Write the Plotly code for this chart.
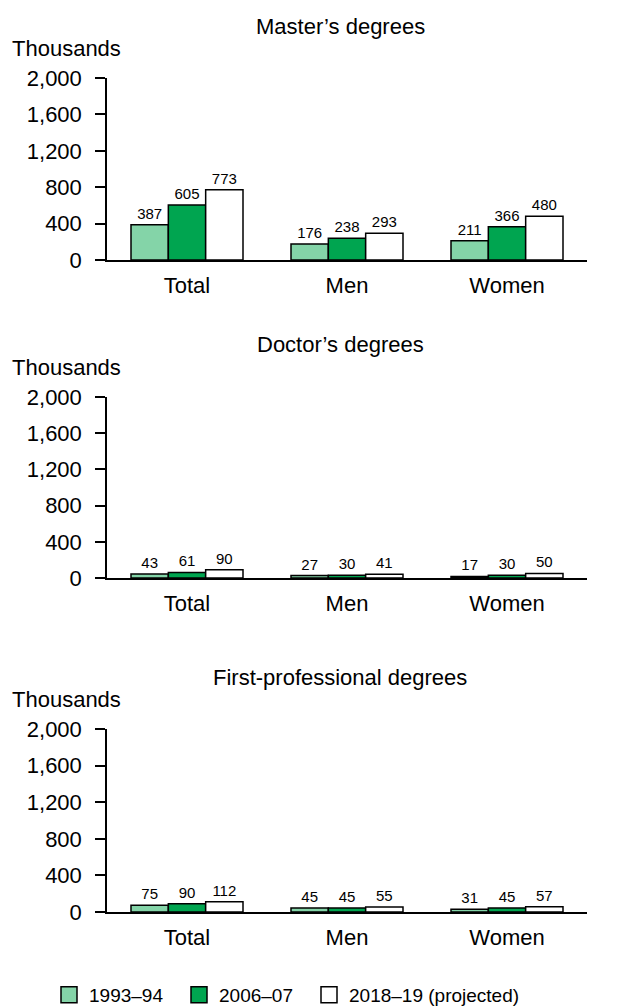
import plotly.graph_objects as go

categories = ["Total", "Men", "Women"]
series_names = ["1993–94", "2006–07", "2018–19 (projected)"]
series_colors = ["#84d4a8", "#00a550", "#ffffff"]

masters_1993 = [387, 176, 211]
masters_2006 = [605, 238, 366]
masters_2018 = [773, 293, 480]

doctors_1993 = [43, 27, 17]
doctors_2006 = [61, 30, 30]
doctors_2018 = [90, 41, 50]

firstprof_1993 = [75, 45, 31]
firstprof_2006 = [90, 45, 45]
firstprof_2018 = [112, 55, 57]

panel_titles = ["Master’s degrees", "Doctor’s degrees", "First-professional degrees"]
y_ticks = [0, 400, 800, 1200, 1600, 2000]

panels = [
    [masters_1993, masters_2006, masters_2018],
    [doctors_1993, doctors_2006, doctors_2018],
    [firstprof_1993, firstprof_2006, firstprof_2018],
]

# the page body has an 8px margin, so the figure is 8px smaller each way
W, H = 620, 998
OFF = 8
FONT = "Liberation Sans, Arial, sans-serif"

# page-pixel positions of each panel (top of axis, zero line)
panel_px = [(78, 260), (397, 578), (729, 912)]
x_left, x_right = 107, 587
legend_px = [49, 179, 309]


def fx(px):
    return (px - OFF) / W


def fy(py):
    return 1 - (py - OFF) / H


fig = go.Figure()

for p, series in enumerate(panels):
    ax = "" if p == 0 else str(p + 1)
    for s, vals in enumerate(series):
        fig.add_trace(go.Bar(
            x=categories, y=vals, name=series_names[s],
            marker=dict(color=series_colors[s], line=dict(color="#000000", width=1.5)),
            text=[str(v) for v in vals], textposition="outside",
            textfont=dict(size=15, color="#000000", family=FONT),
            constraintext="none", cliponaxis=False,
            showlegend=False,
            xaxis="x" + ax, yaxis="y" + ax,
        ))

# legend entries, one legend box each so they can be spaced like the original
legend_ids = ["legend", "legend2", "legend3"]
for s in range(3):
    fig.add_trace(go.Scatter(
        x=[None], y=[None], mode="markers", name=series_names[s],
        marker=dict(symbol="square", size=16, color=series_colors[s],
                    line=dict(color="#000000", width=1.5)),
        showlegend=True, xaxis="x", yaxis="y", legend=legend_ids[s],
    ))

layout = dict(
    width=W, height=H, autosize=False,
    margin=dict(l=0, r=0, t=0, b=0, autoexpand=False),
    paper_bgcolor="#ffffff", plot_bgcolor="#ffffff",
    font=dict(family=FONT, color="#000000", size=18),
    barmode="group", bargap=0.3, bargroupgap=0.0,
    showlegend=True,
)
for s in range(3):
    layout[legend_ids[s]] = dict(
        orientation="h", x=fx(legend_px[s]), xanchor="left", y=fy(995), yanchor="middle",
        font=dict(size=19, family=FONT), bgcolor="rgba(0,0,0,0)",
        itemclick=False,
    )

annotations = []
for p in range(3):
    ax = "" if p == 0 else str(p + 1)
    top, zero = panel_px[p]
    layout["xaxis" + ax] = dict(
        domain=[fx(x_left), fx(x_right)], anchor="y" + ax,
        showline=True, linecolor="#000000", linewidth=2,
        ticks="", showgrid=False, zeroline=False,
        tickfont=dict(size=22, family=FONT),
        ticklabelstandoff=5,
        categoryorder="array", categoryarray=categories,
        fixedrange=True,
    )
    layout["yaxis" + ax] = dict(
        domain=[fy(zero), fy(top)], anchor="x" + ax,
        range=[0, 2000], tickvals=y_ticks, tickformat=",",
        showline=True, linecolor="#000000", linewidth=1.5,
        ticks="outside", ticklen=10, tickwidth=1.5, tickcolor="#000000",
        ticklabelstandoff=9,
        showgrid=False, zeroline=False,
        tickfont=dict(size=22, family=FONT),
        fixedrange=True,
    )
    annotations.append(dict(
        text=panel_titles[p], xref="paper", yref="paper",
        x=fx(340), y=fy(top - 52), xanchor="center", yanchor="middle",
        showarrow=False, font=dict(size=22, family=FONT),
    ))
    annotations.append(dict(
        text="Thousands", xref="paper", yref="paper",
        x=fx(10), y=fy(top - 30), xanchor="left", yanchor="middle",
        showarrow=False, font=dict(size=22, family=FONT),
    ))

layout["annotations"] = annotations
fig.update_layout(**layout)
fig.write_html("out.html")
